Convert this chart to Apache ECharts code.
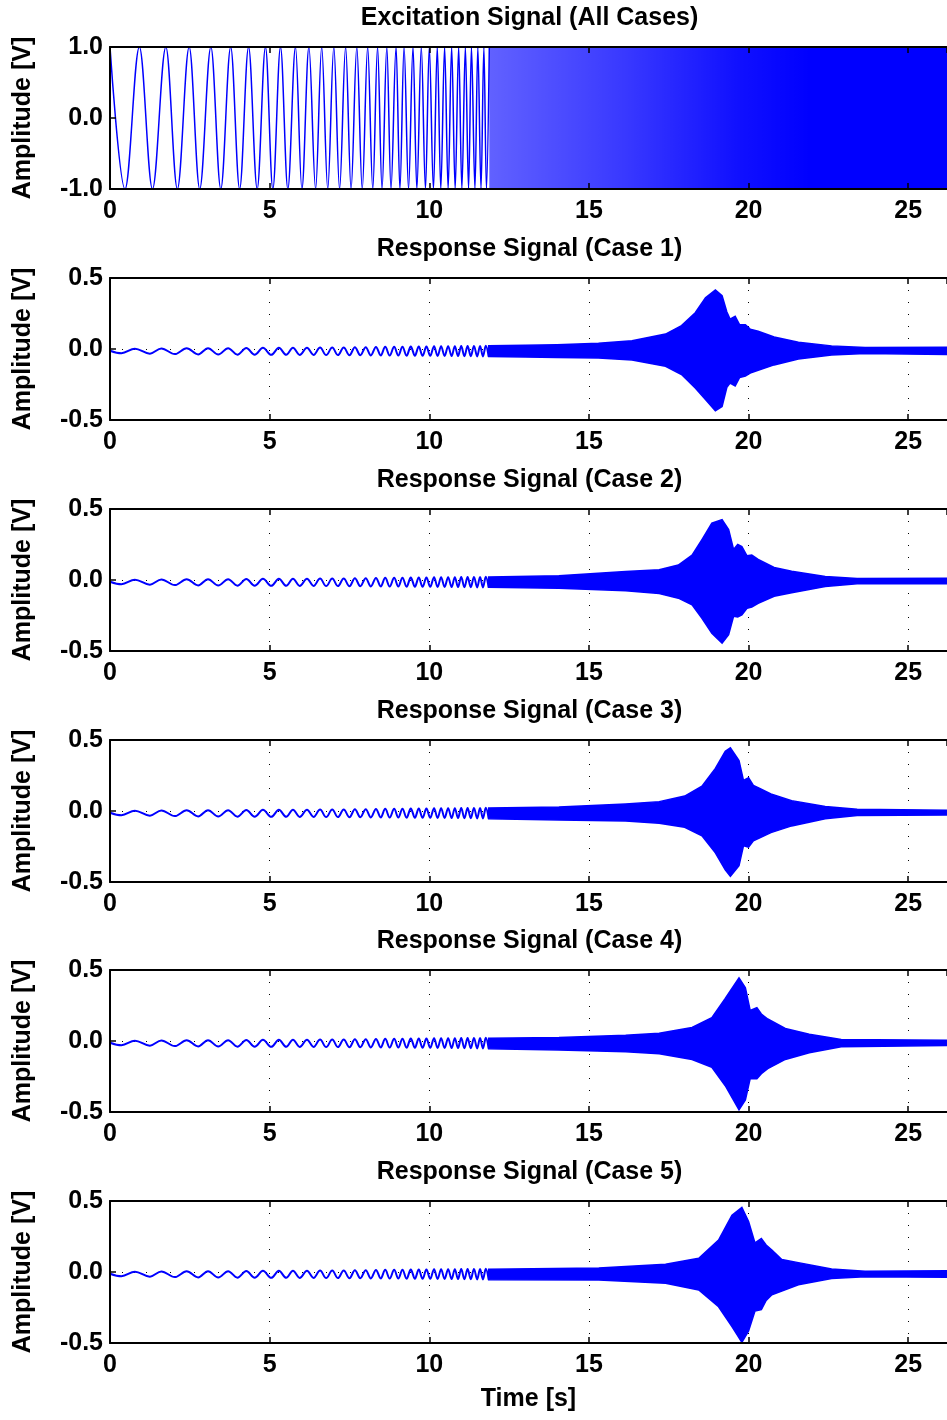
<!DOCTYPE html>
<html>
<head>
<meta charset="utf-8">
<script src="https://cdn.jsdelivr.net/npm/echarts@6/dist/echarts.min.js"></script>
<style>
html, body { margin: 0; padding: 0; background: #fff; }
#chart { width: 947px; height: 1420px; }
</style>
</head>
<body>
<div id="chart"></div>
<script>
// time axis runs to 2^18 samples at 10 kHz
var tMax = 26.2144;

var panelTitles = [
	'Excitation Signal (All Cases)',
	'Response Signal (Case 1)',
	'Response Signal (Case 2)',
	'Response Signal (Case 3)',
	'Response Signal (Case 4)',
	'Response Signal (Case 5)'
];

// sweep turning points [t, amplitude]
var excTurns = [
	[0, 1], [0.47, -1], [0.92, 1], [1.33, -1], [1.75, 1], [2.11, -1], [2.48, 1], [2.81, -1],
	[3.16, 1], [3.47, -1], [3.78, 1], [4.06, -1], [4.34, 1], [4.61, -1], [4.87, 1], [5.10, -1],
	[5.34, 1], [5.57, -1], [5.81, 1], [6.01, -1], [6.23, 1], [6.44, -1], [6.63, 1], [6.82, -1],
	[7.01, 1], [7.19, -1], [7.38, 1], [7.55, -1], [7.73, 1], [7.90, -1], [8.07, 1], [8.23, -1],
	[8.38, 1], [8.52, -1], [8.67, 1], [8.80, -1], [8.96, 1], [9.08, -1], [9.21, 1], [9.35, -1],
	[9.49, 1], [9.61, -1], [9.75, 1], [9.88, -1], [10.00, 1], [10.13, -1], [10.25, 1], [10.36, -1],
	[10.48, 1], [10.59, -1], [10.70, 1], [10.81, -1], [10.92, 1], [11.02, -1], [11.13, 1], [11.23, -1],
	[11.32, 1], [11.43, -1], [11.52, 1], [11.62, -1], [11.71, 1], [11.79, -1], [11.88, 1]
];
// beyond ~12 s the cycles are too dense to separate: envelope [t, upper, lower]
var excDense = [[11.88, 1, -1], [26.2144, 1, -1]];

// low-frequency part of the responses (same in all five cases) [t, amplitude]
var respTurns = [
	[0, -0.012], [0.36, -0.030], [0.78, 0.002], [1.25, -0.033], [1.61, 0.004], [2.03, -0.036],
	[2.40, 0.005], [2.76, -0.038], [3.07, 0.006], [3.39, -0.039], [3.70, 0.006], [3.99, -0.040],
	[4.27, 0.007], [4.53, -0.040], [4.79, 0.008], [5.05, -0.041], [5.29, 0.008], [5.52, -0.041],
	[5.73, 0.009], [5.94, -0.042], [6.17, 0.009], [6.375, -0.042], [6.58, 0.010], [6.77, -0.043],
	[6.96, 0.010], [7.14, -0.043], [7.32, 0.011], [7.50, -0.044], [7.67, 0.012], [7.84, -0.044],
	[8.01, 0.013], [8.17, -0.045], [8.33, 0.014], [8.48, -0.045], [8.62, 0.015], [8.76, -0.046],
	[8.90, 0.015], [9.03, -0.046], [9.16, 0.016], [9.29, -0.047], [9.42, 0.017], [9.55, -0.047],
	[9.67, 0.017], [9.79, -0.048], [9.91, 0.018], [10.03, -0.048], [10.15, 0.019], [10.26, -0.049],
	[10.37, 0.019], [10.48, -0.049], [10.59, 0.020], [10.70, -0.050], [10.80, 0.020], [10.90, -0.050],
	[11.00, 0.021], [11.10, -0.051], [11.20, 0.021], [11.30, -0.051], [11.40, 0.022], [11.50, -0.052],
	[11.59, 0.022], [11.68, -0.052], [11.77, 0.023], [11.86, -0.053]
];

// dense part of each response: envelope [t, upper, lower]
var case1Env = [
	[11.86, 0.023, -0.053], [13.0, 0.026, -0.056], [14.0, 0.030, -0.060], [15.3, 0.040, -0.063],
	[16.35, 0.058, -0.077], [17.4, 0.105, -0.122], [17.9, 0.165, -0.180], [18.33, 0.255, -0.275],
	[18.65, 0.360, -0.355], [18.96, 0.415, -0.435], [19.17, 0.375, -0.405], [19.32, 0.260, -0.270],
	[19.42, 0.210, -0.240], [19.58, 0.230, -0.260], [19.72, 0.170, -0.200], [19.9, 0.170, -0.190],
	[20.05, 0.140, -0.170], [20.3, 0.125, -0.150], [20.8, 0.085, -0.112], [21.56, 0.048, -0.070],
	[22.6, 0.022, -0.042], [23.65, 0.010, -0.031], [26.2144, 0.012, -0.038]
];
var case2Env = [
	[11.86, 0.022, -0.052], [14.06, 0.030, -0.058], [16.15, 0.060, -0.075], [17.2, 0.072, -0.095],
	[17.8, 0.105, -0.128], [18.23, 0.175, -0.175], [18.54, 0.285, -0.270], [18.85, 0.400, -0.375],
	[19.17, 0.425, -0.445], [19.375, 0.355, -0.385], [19.53, 0.215, -0.255], [19.66, 0.250, -0.260],
	[19.79, 0.235, -0.245], [19.95, 0.170, -0.200], [20.1, 0.175, -0.190], [20.3, 0.145, -0.165],
	[20.8, 0.088, -0.115], [21.35, 0.062, -0.090], [22.4, 0.024, -0.046], [23.4, 0.011, -0.026],
	[26.2144, 0.012, -0.026]
];
var case3Env = [
	[11.86, 0.022, -0.055], [14.06, 0.028, -0.063], [16.15, 0.050, -0.070], [17.2, 0.066, -0.086],
	[18.0, 0.105, -0.115], [18.54, 0.175, -0.175], [18.96, 0.300, -0.295], [19.27, 0.420, -0.415],
	[19.43, 0.445, -0.460], [19.7, 0.355, -0.385], [19.84, 0.215, -0.245], [20.0, 0.235, -0.255],
	[20.15, 0.180, -0.210], [20.3, 0.165, -0.195], [20.7, 0.120, -0.152], [21.35, 0.073, -0.105],
	[22.4, 0.032, -0.054], [23.4, 0.012, -0.032], [26.2144, 0.006, -0.028]
];
var case4Env = [
	[11.86, 0.020, -0.055], [14.06, 0.024, -0.063], [16.15, 0.040, -0.075], [17.2, 0.055, -0.090],
	[18.23, 0.095, -0.130], [18.85, 0.165, -0.185], [19.27, 0.300, -0.315], [19.7, 0.445, -0.485],
	[19.9, 0.375, -0.415], [20.05, 0.215, -0.265], [20.26, 0.235, -0.265], [20.4, 0.190, -0.230],
	[20.6, 0.155, -0.195], [21.15, 0.088, -0.130], [21.9, 0.048, -0.083], [22.9, 0.011, -0.040],
	[26.2144, 0.006, -0.032]
];
var case5Env = [
	[11.86, 0.020, -0.055], [15.31, 0.028, -0.057], [17.4, 0.054, -0.080], [18.44, 0.097, -0.127],
	[19.06, 0.225, -0.245], [19.48, 0.400, -0.385], [19.79, 0.455, -0.495], [20.0, 0.355, -0.415],
	[20.2, 0.205, -0.275], [20.4, 0.235, -0.265], [20.55, 0.190, -0.200], [20.73, 0.155, -0.160],
	[21.04, 0.088, -0.135], [21.56, 0.066, -0.090], [22.6, 0.021, -0.045], [23.65, 0.005, -0.033],
	[26.2144, 0.008, -0.037]
];
var caseEnvs = [case1Env, case2Env, case3Env, case4Env, case5Env];

var FONT = '"Liberation Sans", Arial, sans-serif';
var BLUE = '#0000ff';
var gridTop = [47, 278, 509, 740, 970, 1201];
var gridH = 142;

var myChart = echarts.init(document.getElementById('chart'));

function xFmt(v) { return v % 5 === 0 ? String(v) : ''; }

// filled band between upper and lower envelope, drawn through the axes' own scales
function bandSeries(env, gi, fill, stroke) {
	return {
		type: 'custom',
		xAxisIndex: gi * 3,
		yAxisIndex: gi * 2,
		silent: true,
		animation: false,
		z: 3,
		data: [[env[0][0], env[0][1]]],
		renderItem: function (params, api) {
			var pts = [];
			for (var i = 0; i < env.length; i++) pts.push(api.coord([env[i][0], env[i][1]]));
			for (var j = env.length - 1; j >= 0; j--) pts.push(api.coord([env[j][0], env[j][2]]));
			return {
				type: 'polygon',
				shape: { points: pts },
				style: { fill: fill, stroke: stroke, lineWidth: stroke ? 1.5 : 0 }
			};
		}
	};
}

function turnSeries(data, gi, w) {
	return {
		type: 'line',
		xAxisIndex: gi * 3,
		yAxisIndex: gi * 2,
		data: data,
		smooth: 0.36,
		smoothMonotone: 'x',
		showSymbol: false,
		animation: false,
		silent: true,
		z: 3,
		lineStyle: { color: BLUE, width: w }
	};
}

var grids = [], xAxes = [], yAxes = [], series = [], graphics = [];

for (var gi = 0; gi < 6; gi++) {
	var isExc = gi === 0;
	grids.push({ left: 110, right: -2, top: gridTop[gi], height: gridH });

	// bottom axis with labels
	xAxes.push({
		gridIndex: gi, type: 'value', min: 0, max: tMax, interval: 5, position: 'bottom', z: 10,
		axisLine: { onZero: false, lineStyle: { color: '#000', width: 2 } },
		axisTick: { inside: true, length: 6, lineStyle: { color: '#000', width: 1.5 } },
		axisLabel: { color: '#000', fontSize: 25, fontWeight: 'bold', fontFamily: FONT, margin: 10, showMaxLabel: false, formatter: xFmt },
		splitLine: { show: false },
		name: gi === 5 ? 'Time [s]' : '',
		nameLocation: 'middle',
		nameGap: 44,
		nameTextStyle: { color: '#000', fontSize: 25, fontWeight: 'bold', fontFamily: FONT }
	});
	// top box edge
	xAxes.push({
		gridIndex: gi, type: 'value', min: 0, max: tMax, interval: 5, position: 'top', z: 10,
		axisLine: { onZero: false, lineStyle: { color: '#000', width: 2 } },
		axisTick: { inside: true, length: 6, lineStyle: { color: '#000', width: 1.5 } },
		axisLabel: { show: false },
		splitLine: { show: false }
	});
	// dotted grid underneath the signal
	xAxes.push({
		gridIndex: gi, type: 'value', min: 0, max: tMax, interval: 5, position: 'bottom', z: 0,
		axisLine: { show: false }, axisTick: { show: false }, axisLabel: { show: false },
		splitLine: { show: !isExc, lineStyle: { color: '#000', width: 1, type: [1, 11] } }
	});

	var yMin = isExc ? -1 : -0.5, yMax = isExc ? 1 : 0.5, yInt = isExc ? 1 : 0.5;
	yAxes.push({
		gridIndex: gi, type: 'value', min: yMin, max: yMax, interval: yInt, position: 'left', z: 10,
		axisLine: { show: true, onZero: false, lineStyle: { color: '#000', width: 2 } },
		axisTick: { show: true, inside: true, length: 6, lineStyle: { color: '#000', width: 1.5 } },
		axisLabel: { color: '#000', fontSize: 25, fontWeight: 'bold', fontFamily: FONT, margin: 7,
			formatter: function (v) { return v.toFixed(1); } },
		splitLine: { show: false },
		name: 'Amplitude [V]',
		nameLocation: 'middle',
		nameRotate: 90,
		nameGap: 74,
		nameTextStyle: { color: '#000', fontSize: 25, fontWeight: 'bold', fontFamily: FONT }
	});
	yAxes.push({
		gridIndex: gi, type: 'value', min: yMin, max: yMax, interval: yInt, position: 'left', z: 0,
		axisLine: { show: false }, axisTick: { show: false }, axisLabel: { show: false },
		splitLine: { show: !isExc, lineStyle: { color: '#000', width: 1, type: [1, 11] } }
	});

	if (isExc) {
		series.push(turnSeries(excTurns, 0, 1.5));
		series.push(bandSeries(excDense, 0, new echarts.graphic.LinearGradient(0, 0, 1, 0, [
			{ offset: 0, color: 'rgba(0,0,255,0.62)' },
			{ offset: 0.3, color: 'rgba(0,0,255,0.78)' },
			{ offset: 0.55, color: 'rgba(0,0,255,0.94)' },
			{ offset: 0.7, color: 'rgba(0,0,255,1)' },
			{ offset: 1, color: 'rgba(0,0,255,1)' }
		]), null));
	} else {
		series.push(turnSeries(respTurns, gi, 2));
		series.push(bandSeries(caseEnvs[gi - 1], gi, BLUE, BLUE));
	}

	graphics.push({
		type: 'text', x: 529.5, y: gridTop[gi] - 29, silent: true,
		style: { text: panelTitles[gi], fill: '#000', fontSize: 25, fontWeight: 'bold', fontFamily: FONT,
			align: 'center', verticalAlign: 'middle' }
	});
}

myChart.setOption({
	animation: false,
	backgroundColor: '#fff',
	grid: grids,
	xAxis: xAxes,
	yAxis: yAxes,
	series: series,
	graphic: graphics
});
</script>
</body>
</html>
